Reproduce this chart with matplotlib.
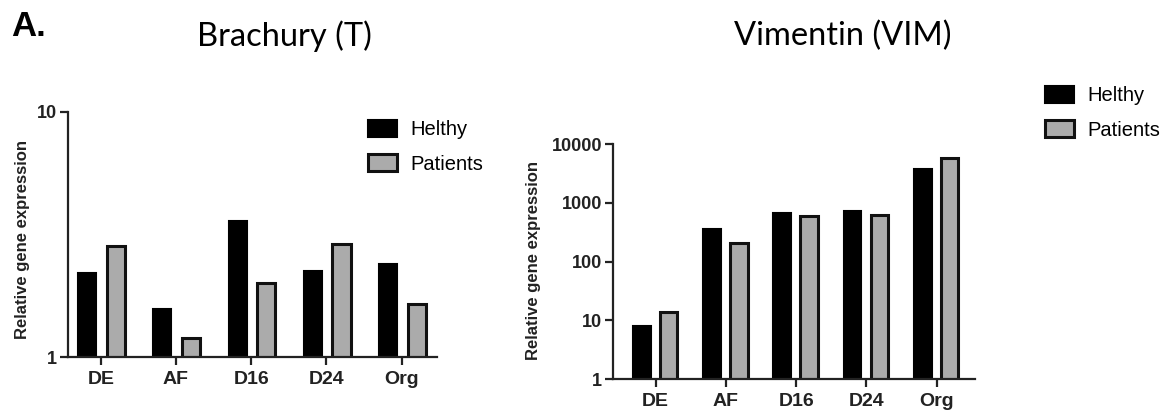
import numpy as np
import matplotlib
matplotlib.use('Agg')
import matplotlib.pyplot as plt
from matplotlib.patches import Patch

# ===== data =====
stages = ['DE', 'AF', 'D16', 'D24', 'Org']
t_healthy = [2.2, 1.57, 3.57, 2.25, 2.40]
t_patients = [2.84, 1.20, 2.00, 2.89, 1.65]
vim_healthy = [8.0, 355, 680, 736, 3725]
vim_patients = [14.1, 205, 598, 622, 5870]
vim_yticks = [1, 10, 100, 1000, 10000]
t_yticks = [1, 10]

plt.rcParams['font.family'] = ['Liberation Sans', 'DejaVu Sans']

fig = plt.figure(figsize=(11.63, 4.15), dpi=100)
W, H = 1163, 415


def px_axes(x0, x1, ytop, ybot):
    return fig.add_axes([x0 / W, (H - ybot) / H, (x1 - x0) / W, (ybot - ytop) / H])


def draw(ax, healthy, patients, yticks, xlim, ylim, off_h, off_p, bw):
    x = np.arange(len(stages))
    ax.bar(x + off_h, healthy, width=bw, color='black', edgecolor='black', linewidth=1.5)
    ax.bar(x + off_p, patients, width=bw, color='#ababab', edgecolor='#111111', linewidth=2.2)
    ax.set_yscale('log')
    ax.set_ylim(*ylim)
    ax.set_xlim(*xlim)
    ax.set_yticks(yticks)
    ax.set_yticklabels([str(v) for v in yticks], fontweight='bold', fontsize=13, color='#222222')
    ax.yaxis.set_minor_locator(matplotlib.ticker.NullLocator())
    ax.set_xticks(x)
    ax.set_xticklabels(stages, fontweight='bold', fontsize=14, color='#222222')
    for s in ['top', 'right']:
        ax.spines[s].set_visible(False)
    for s in ['left', 'bottom']:
        ax.spines[s].set_linewidth(1.6)
        ax.spines[s].set_color('#222222')
    ax.tick_params(axis='both', width=1.6, length=6, color='#222222')
    ax.tick_params(axis='x', pad=4)
    ax.tick_params(axis='y', pad=2)
    ax.set_ylabel('Relative gene expression', fontweight='bold', fontsize=12, color='#222222')


# ===== left: Brachury =====
ax1 = px_axes(68, 437, 111.7, 357)
draw(ax1, t_healthy, t_patients, t_yticks, (-0.436, 4.47), (1, 10), -0.18, 0.20, 0.24)
ax1.yaxis.set_label_coords(-0.103, 0.479)

# ===== right: Vimentin =====
ax2 = px_axes(613, 975, 144, 379.3)
draw(ax2, vim_healthy, vim_patients, vim_yticks, (-0.607, 4.545), (1, 10000), -0.198, 0.185, 0.25)
ax2.yaxis.set_label_coords(-0.20, 0.507)

# ===== titles =====
fig.text(11 / W, 1 - 26 / H, 'A.', fontsize=25, fontweight='bold', va='center', ha='left')
fig.text(284 / W, 1 - 36 / H, 'Brachury (T)', fontsize=23.5, family=['Lato', 'DejaVu Sans'], va='center', ha='center')
fig.text(843 / W, 1 - 36 / H, 'Vimentin (VIM)', fontsize=23.5, family=['Lato', 'DejaVu Sans'], va='center', ha='center')

# ===== legends =====
handles = [Patch(facecolor='black', edgecolor='black', linewidth=1.5, label='Helthy'),
           Patch(facecolor='#ababab', edgecolor='#111111', linewidth=2.2, label='Patients')]
for (lx, ly) in [(364, 116), (1041, 82)]:
    fig.legend(handles=handles, loc='upper left', bbox_to_anchor=(lx / W, 1 - ly / H),
               frameon=False, fontsize=14.5, handlelength=1.45, handleheight=0.9,
               handletextpad=0.65, labelspacing=0.75, borderpad=0.2, borderaxespad=0)

fig.savefig('out.png', dpi=100)
